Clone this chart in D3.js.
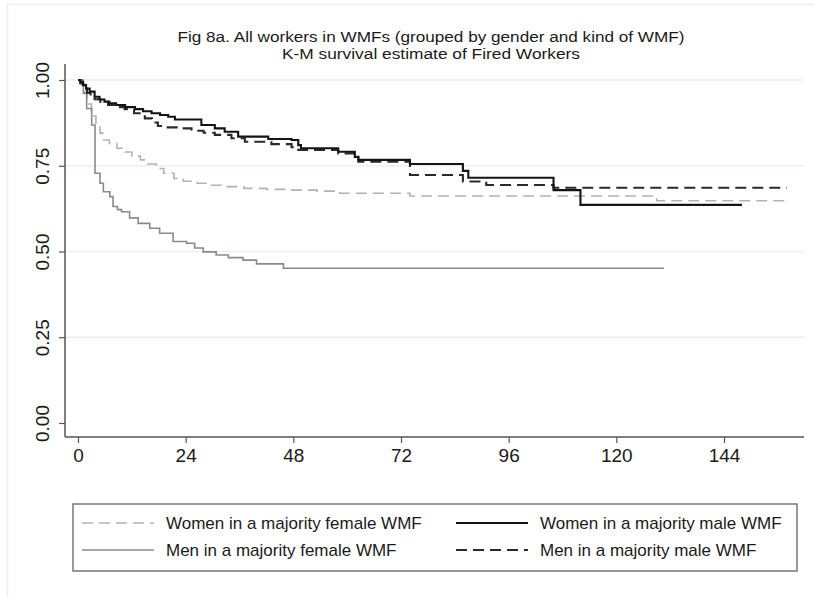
<!DOCTYPE html>
<html>
<head>
<meta charset="utf-8">
<script src="https://cdn.jsdelivr.net/npm/d3@7"></script>
<style>
  html, body { margin: 0; padding: 0; background: #fff; }
  svg { display: block; font-family: "Liberation Sans", Arial, sans-serif; }
</style>
</head>
<body>
<svg id="chart" width="814" height="597"></svg>
<script>
// Kaplan-Meier survival estimates (months since start, survival share)
const womenFemaleT = [0, 1, 2, 3, 4, 4.9, 5.5, 7, 8.7, 10.5, 12, 13.9, 15.5, 17.5, 19.1, 21.4, 23.5, 26.6, 29.5, 32.5, 37, 42, 47.4, 53.3, 58.4, 74, 129, 158.7];
const womenFemaleS = [1, .965, .93, .895, .87, .845, .825, .815, .801, .79, .778, .767, .755, .742, .728, .713, .705, .699, .693, .689, .684, .681, .679, .676, .670, .662, .648, .648];

const menFemaleT = [0, 1.19, 1.93, 3.05, 3.79, 4.9, 5.65, 7.1, 7.8, 8.8, 9.7, 11.5, 13.4, 16, 18.2, 21.2, 24.2, 26, 27.9, 30.8, 33.5, 36.8, 39.8, 45.8, 130.6];
const menFemaleS = [1, .961, .917, .869, .728, .699, .674, .660, .631, .622, .616, .598, .582, .568, .553, .529, .524, .51, .499, .490, .482, .475, .464, .451, .451];

const womenMaleT = [0, 0.5, 1.1, 1.8, 2.6, 3.7, 4.8, 5.9, 7, 8.5, 10.5, 12.7, 14.5, 16.4, 18.3, 20.1, 21.6, 27.5, 30.5, 32.7, 35.7, 42.4, 47.6, 49.1, 49.7, 58, 61.7, 62.5, 74, 85.8, 87, 106, 112, 148];
const womenMaleS = [1, .995, .985, .975, .966, .951, .943, .937, .932, .927, .921, .915, .909, .903, .898, .893, .885, .869, .859, .849, .835, .828, .825, .81, .801, .791, .776, .767, .755, .735, .715, .679, .636, .636];

const menMaleT = [0, 0.5, 1.2, 2, 2.8, 3.7, 5, 6.7, 8.5, 10.4, 12.5, 14.9, 16.5, 17.8, 20, 22.3, 25.3, 28, 30.5, 34.2, 37.2, 43.1, 47.6, 49.1, 58, 62.5, 74, 85.8, 91, 106, 158];
const menMaleS = [1, .99, .975, .962, .952, .944, .936, .927, .921, .915, .903, .888, .876, .866, .862, .859, .852, .846, .840, .830, .820, .813, .804, .796, .786, .762, .723, .704, .694, .686, .686];

const xTicks = [0, 24, 48, 72, 96, 120, 144];
const yTicks = [0, 0.25, 0.5, 0.75, 1];
const yTickLabels = ["0.00", "0.25", "0.50", "0.75", "1.00"];

const titleLines = [
  "Fig 8a. All workers in WMFs (grouped by gender and kind of WMF)",
  "K-M survival estimate of Fired Workers"
];

const seriesNames = [
  "Women in a majority female WMF",
  "Men in a majority female WMF",
  "Women in a majority male WMF",
  "Men in a majority male WMF"
];

const svg = d3.select("#chart");

// faint outer frame of the graph region
svg.append("rect")
  .attr("x", 7.5).attr("y", 4.5).attr("width", 820).attr("height", 620)
  .attr("fill", "none").attr("stroke", "#e9eff3").attr("stroke-width", 1.5);

const x = d3.scaleLinear().domain([0, 144]).range([78, 724]);
const y = d3.scaleLinear().domain([0, 1]).range([423, 80]);

const axisLeftX = 65, axisBottomY = 437, plotRight = 804;

// horizontal grid
svg.append("g")
  .selectAll("line")
  .data(yTicks.filter(d => d > 0))
  .join("line")
  .attr("x1", axisLeftX + 1).attr("x2", plotRight)
  .attr("y1", d => y(d)).attr("y2", d => y(d))
  .attr("stroke", "#e8f0f0").attr("stroke-width", 1.5);

// series
const series = [
  { t: womenFemaleT, s: womenFemaleS, color: "#b2b2b2", width: 1.6, dash: "11,6" },
  { t: menFemaleT, s: menFemaleS, color: "#8a8a8a", width: 1.6, dash: null },
  { t: womenMaleT, s: womenMaleS, color: "#141414", width: 2.1, dash: null },
  { t: menMaleT, s: menMaleS, color: "#2a2a2a", width: 2.1, dash: "11,6" }
];

const line = d3.line()
  .x(d => x(d[0]))
  .y(d => y(d[1]))
  .curve(d3.curveStepAfter);

// draw lighter series first so darker ones sit on top
[0, 1, 3, 2].forEach(i => {
  const sr = series[i];
  svg.append("path")
    .datum(sr.t.map((t, k) => [t, sr.s[k]]))
    .attr("d", line)
    .attr("fill", "none")
    .attr("stroke", sr.color)
    .attr("stroke-width", sr.width)
    .attr("stroke-dasharray", sr.dash)
    .attr("stroke-linejoin", "miter");
});

// x axis
const xAxis = svg.append("g")
  .attr("transform", `translate(0,${axisBottomY})`)
  .call(d3.axisBottom(x).tickValues(xTicks).tickSize(6).tickPadding(6).tickFormat(d3.format("d")));
xAxis.select(".domain").remove();
xAxis.append("line")
  .attr("x1", axisLeftX).attr("x2", plotRight).attr("y1", 0).attr("y2", 0)
  .attr("stroke", "#555").attr("stroke-width", 1.5);
xAxis.selectAll(".tick line").attr("stroke", "#555").attr("stroke-width", 1.2);
xAxis.selectAll(".tick text")
  .attr("fill", "#1a1a1a")
  .style("font-size", "19px")
  .style("font-family", "'Liberation Sans', Arial, sans-serif");

// y axis
const yAxis = svg.append("g")
  .attr("transform", `translate(${axisLeftX},0)`)
  .call(d3.axisLeft(y).tickValues(yTicks).tickSize(6).tickPadding(0)
    .tickFormat((d, i) => yTickLabels[i]));
yAxis.select(".domain").remove();
yAxis.append("line")
  .attr("x1", 0).attr("x2", 0).attr("y1", 64).attr("y2", axisBottomY)
  .attr("stroke", "#555").attr("stroke-width", 1.5);
yAxis.selectAll(".tick line").attr("stroke", "#555").attr("stroke-width", 1.2);
yAxis.selectAll(".tick text")
  .attr("x", 0).attr("y", 0).attr("dy", 0)
  .attr("text-anchor", "middle")
  .attr("transform", "translate(-16,0) rotate(-90)")
  .attr("fill", "#1a1a1a")
  .style("font-size", "19px")
  .style("font-family", "'Liberation Sans', Arial, sans-serif");

// title: two tightly stacked lines, stretched to their set widths
const titleWidths = [507, 298];
svg.append("g")
  .selectAll("text")
  .data(titleLines)
  .join("text")
  .attr("x", 431)
  .attr("y", (d, i) => 42 + i * 17)
  .attr("text-anchor", "middle")
  .attr("fill", "#1a1a1a")
  .attr("textLength", (d, i) => titleWidths[i])
  .attr("lengthAdjust", "spacingAndGlyphs")
  .style("font-size", "15.2px")
  .text(d => d);

// legend
const legend = svg.append("g");
legend.append("rect")
  .attr("x", 73).attr("y", 504).attr("width", 724).attr("height", 67)
  .attr("fill", "#fff").attr("stroke", "#777").attr("stroke-width", 1.5);

const legendPos = [
  { x: 82, y: 523 },
  { x: 82, y: 550 },
  { x: 456, y: 523 },
  { x: 456, y: 550 }
];

series.forEach((sr, i) => {
  const p = legendPos[i];
  legend.append("line")
    .attr("x1", p.x).attr("x2", p.x + 72)
    .attr("y1", p.y).attr("y2", p.y)
    .attr("stroke", sr.color)
    .attr("stroke-width", sr.width)
    .attr("stroke-dasharray", sr.dash);
  legend.append("text")
    .attr("x", p.x + 84)
    .attr("y", p.y + 6)
    .attr("fill", "#1a1a1a")
    .style("font-size", "17px")
    .text(seriesNames[i]);
});
</script>
</body>
</html>
